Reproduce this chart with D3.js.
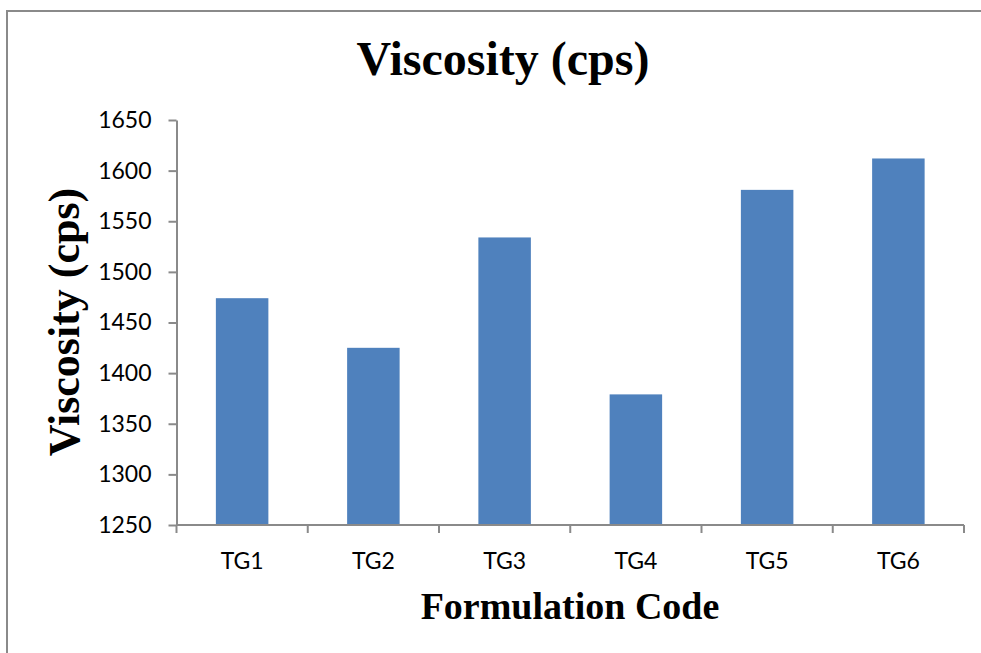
<!DOCTYPE html>
<html>
<head>
<meta charset="utf-8">
<script src="https://cdn.jsdelivr.net/npm/d3@7"></script>
<style>
  body { margin: 0; background: #fff; }
</style>
</head>
<body>
<div id="chart"></div>
<script>
// data
var categories = ["TG1", "TG2", "TG3", "TG4", "TG5", "TG6"];
var viscosity = [1474, 1425, 1534, 1379, 1581, 1612];
var yTicks = [1250, 1300, 1350, 1400, 1450, 1500, 1550, 1600, 1650];

var chartTitle = "Viscosity (cps)";
var yTitle = "Viscosity (cps)";
var xTitle = "Formulation Code";

// set the dimensions and margins of the graph
var W = 981, H = 653;
var margin = {top: 120, right: 17, bottom: 128, left: 176.5},
    width = W - margin.left - margin.right,
    height = H - margin.top - margin.bottom;

var svgRoot = d3.select("#chart")
  .append("svg")
    .attr("width", W)
    .attr("height", H);

// outer frame (runs off the right and bottom edge like the source)
svgRoot.append("rect")
    .attr("x", 7)
    .attr("y", 11)
    .attr("width", 1000)
    .attr("height", 700)
    .attr("fill", "#fff")
    .attr("stroke", "#8a8a8a")
    .attr("stroke-width", 2);

var svg = svgRoot.append("g")
    .attr("transform", "translate(" + margin.left + "," + margin.top + ")");

var x = d3.scaleBand()
    .domain(categories)
    .range([0, width])
    .padding(0);

var y = d3.scaleLinear()
    .domain([1250, 1650])
    .range([height, 0]);

// bars (Excel gap width 150% -> bar is 40% of band)
var barW = x.bandwidth() * 0.4;
svg.selectAll("rect.bar")
    .data(categories)
    .enter()
    .append("rect")
    .attr("class", "bar")
    .attr("x", function(d) { return x(d) + (x.bandwidth() - barW) / 2; })
    .attr("width", barW)
    .attr("y", function(d, i) { return y(viscosity[i]); })
    .attr("height", function(d, i) { return y(1250) - y(viscosity[i]); })
    .attr("fill", "#4f81bd");

// Y axis
var yAxis = svg.append("g")
    .call(d3.axisLeft(y)
        .tickValues(yTicks)
        .tickFormat(d3.format("d"))
        .tickSize(8).tickSizeOuter(0).tickPadding(17));

// X axis labels (centered in bands)
var xAxis = svg.append("g")
    .attr("transform", "translate(0," + height + ")")
    .call(d3.axisBottom(x).tickSize(0).tickPadding(28));
xAxis.select(".domain").remove();

// x axis line + ticks at band boundaries
var bounds = categories.map(function(d) { return x(d); }).concat([width]);
svg.append("line")
    .attr("x1", 0).attr("x2", width)
    .attr("y1", height).attr("y2", height)
    .attr("stroke", "#8a8a8a")
    .attr("stroke-width", 2);
svg.selectAll("line.xtick")
    .data(bounds)
    .enter()
    .append("line")
    .attr("class", "xtick")
    .attr("x1", function(d) { return d; })
    .attr("x2", function(d) { return d; })
    .attr("y1", height)
    .attr("y2", height + 8)
    .attr("stroke", "#8a8a8a")
    .attr("stroke-width", 2);

// axis styling
svg.selectAll(".tick line, .domain")
    .attr("stroke", "#8a8a8a")
    .attr("stroke-width", 2);
svg.selectAll(".tick text")
    .attr("fill", "#000")
    .style("font-family", "Lato, 'Open Sans', sans-serif")
    .style("font-size", "23px");

// titles
svgRoot.append("text")
    .attr("x", 503)
    .attr("y", 75)
    .attr("text-anchor", "middle")
    .style("font-family", "'Liberation Serif', 'Times New Roman', serif")
    .style("font-weight", "bold")
    .style("font-size", "48px")
    .text(chartTitle);

svgRoot.append("text")
    .attr("transform", "translate(79,322) rotate(-90)")
    .attr("text-anchor", "middle")
    .style("font-family", "'Liberation Serif', 'Times New Roman', serif")
    .style("font-weight", "bold")
    .style("font-size", "44px")
    .text(yTitle);

svgRoot.append("text")
    .attr("x", 570)
    .attr("y", 619)
    .attr("text-anchor", "middle")
    .style("font-family", "'Liberation Serif', 'Times New Roman', serif")
    .style("font-weight", "bold")
    .style("font-size", "38px")
    .text(xTitle);
</script>
</body>
</html>
